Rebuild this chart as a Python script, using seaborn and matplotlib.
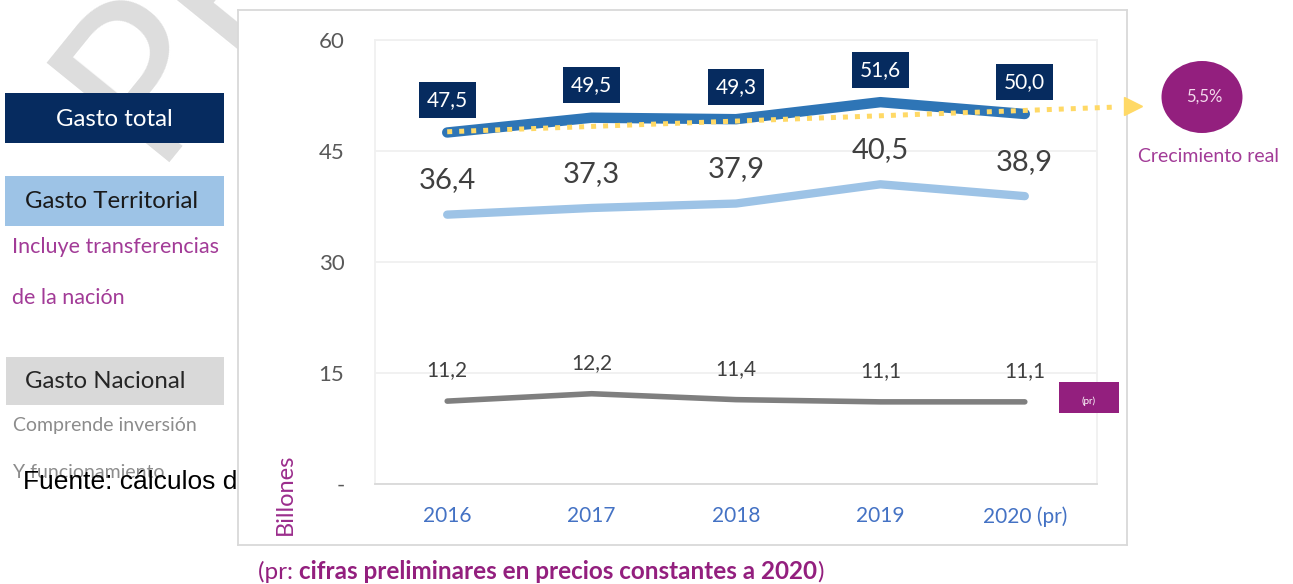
import numpy as np
import matplotlib
matplotlib.use("Agg")
import matplotlib.pyplot as plt
from matplotlib.patches import Rectangle, Ellipse
import seaborn as sns

# datos (billones, precios constantes 2020)
years = ["2016", "2017", "2018", "2019", "2020 (pr)"]
gasto_total = [47.5, 49.5, 49.3, 51.6, 50.0]
gasto_territorial = [36.4, 37.3, 37.9, 40.5, 38.9]
gasto_nacional = [11.2, 12.2, 11.4, 11.1, 11.1]
# tendencia (linea punteada): indice de categoria -> valor
trend_idx = [0, 4.65]
trend_val = [47.6, 50.95]
crecimiento = "5,5%"
yticks = [0, 15, 30, 45, 60]
ytick_labels = ["-", "15", "30", "45", "60"]

sns.set_style("white")
plt.rcParams["font.family"] = ["Lato", "DejaVu Sans"]

W, H = 1293, 584
navy = "#062B5F"
blue = "#2E75B6"
lblue = "#9DC3E6"
grey = "#7F7F7F"
purple = "#931F7E"
purple_txt = "#A23B97"

fig = plt.figure(figsize=(W / 100, H / 100), dpi=100)


def full_axes(z):
    a = fig.add_axes([0, 0, 1, 1], zorder=z)
    a.set_xlim(0, W)
    a.set_ylim(H, 0)
    a.axis("off")
    return a


# fondo: marca de agua y recuadros de la izquierda
ax_bg = full_axes(0)
ax_bg.text(150, 162, "PRELIMINAR", rotation=51, rotation_mode="anchor",
           ha="left", va="baseline", fontsize=158, color="#DDDDDD", zorder=0)

ax_bg.add_patch(Rectangle((5, 93), 219, 50, fc=navy, ec="none", zorder=2))
ax_bg.text(114, 119, "Gasto total", ha="center", va="center", fontsize=17.3,
           color="white", zorder=3)
ax_bg.add_patch(Rectangle((5, 176), 219, 50, fc=lblue, ec="none", zorder=2))
ax_bg.text(112, 202, "Gasto Territorial", ha="center", va="center", fontsize=17.3,
           color="#1A1A1A", zorder=3)
ax_bg.text(12, 247, "Incluye transferencias", ha="left", va="center", fontsize=15.5,
           color=purple_txt, zorder=3)
t = ax_bg.text(12, 298, "de la nación", ha="left", va="center", fontsize=15.5,
               color=purple_txt, zorder=3)
t.set_clip_path(Rectangle((0, 0), 240, 303, transform=ax_bg.transData))
ax_bg.add_patch(Rectangle((6, 357), 218, 48, fc="#D9D9D9", ec="none", zorder=2))
ax_bg.text(105, 382, "Gasto Nacional", ha="center", va="center", fontsize=17.3,
           color="#262626", zorder=3)
ax_bg.text(13, 425, "Comprende inversión", ha="left", va="center", fontsize=14,
           color="#8C8C8C", zorder=3)
ax_bg.text(13, 473, "Y funcionamiento", ha="left", va="center", fontsize=14,
           color="#8C8C8C", zorder=3)
f = ax_bg.text(23, 489, "Fuente: cálculos d", ha="left", va="baseline", fontsize=19,
               color="black", family="Liberation Sans", zorder=4)
f.set_clip_path(Rectangle((0, 0), 238, H, transform=ax_bg.transData))

# recuadro del grafico
ax_box = fig.add_axes([238 / W, 1 - 545 / H, (1127 - 238) / W, (545 - 10) / H], zorder=1)
ax_box.set_facecolor("white")
ax_box.set_xticks([])
ax_box.set_yticks([])
for s in ax_box.spines.values():
    s.set_color("#D9D9D9")
    s.set_linewidth(1.3)

# grafico principal
ax = fig.add_axes([375 / W, 1 - 484 / H, (1097 - 375) / W, (484 - 40) / H], zorder=2)
ax.set_facecolor("none")
x = np.arange(len(years))

sns.lineplot(x=x, y=gasto_territorial, ax=ax, color=lblue, linewidth=6,
             solid_capstyle="round", zorder=3)
sns.lineplot(x=x, y=gasto_nacional, ax=ax, color=grey, linewidth=4,
             solid_capstyle="round", zorder=3)
sns.lineplot(x=x, y=gasto_total, ax=ax, color=blue, linewidth=7.5,
             solid_capstyle="round", zorder=4)
ax.plot(trend_idx, trend_val, color="#FFD966", linewidth=3.6, linestyle=(0, (1, 1.4)),
        dash_capstyle="butt", clip_on=False, zorder=5)
ax.plot([trend_idx[-1] + 0.1], [trend_val[-1] + 0.07], marker=">", markersize=13,
        color="#FFD966", clip_on=False, zorder=5)


def fmt(v):
    return f"{v:.1f}".replace(".", ",")


for i, v in enumerate(gasto_total):
    ax.annotate(fmt(v), (i, v), xytext=(0, 19), textcoords="offset points",
                ha="center", va="baseline", fontsize=15, color="white", zorder=6,
                bbox=dict(boxstyle="square,pad=0.38", fc=navy, ec="none"))
for i, v in enumerate(gasto_territorial):
    ax.annotate(fmt(v), (i, v), xytext=(0, 19), textcoords="offset points",
                ha="center", va="baseline", fontsize=21, color="#404040", zorder=6)
for i, v in enumerate(gasto_nacional):
    ax.annotate(fmt(v), (i, v), xytext=(0, 18), textcoords="offset points",
                ha="center", va="baseline", fontsize=15, color="#404040", zorder=6)

ax.set_xlim(-0.5, len(years) - 0.5)
ax.set_ylim(0, 60)
ax.set_yticks(yticks)
ax.set_yticklabels(ytick_labels)
ax.set_xticks(np.arange(-0.5, len(years), 1))
ax.set_xticklabels([])
ax.set_xticks(x, minor=True)
ax.set_xticklabels(years, minor=True)
ax.tick_params(axis="x", which="major", length=6, width=1, color="#D9D9D9", direction="out")
ax.tick_params(axis="x", which="minor", length=0, pad=16, labelsize=15, labelcolor="#4472C4")
ax.tick_params(axis="y", length=0, pad=22, labelsize=16, labelcolor="#595959")
ax.yaxis.grid(True, color="#F0F0F0", linewidth=1.3)
ax.set_axisbelow(True)
for side in ["top", "right", "left"]:
    ax.spines[side].set_color("#F0F0F0")
    ax.spines[side].set_linewidth(1.3)
ax.spines["bottom"].set_color("#D9D9D9")
ax.spines["bottom"].set_linewidth(1.3)

# capa superior: anotaciones
ax_top = full_axes(3)
ax_top.text(285, 494, "Billones", rotation=90, ha="center", va="center",
            fontsize=17, color="#9B2D8C")
ax_top.add_patch(Rectangle((1059, 382), 60, 31, fc=purple, ec="none"))
ax_top.text(1089, 401, "(pr)", ha="center", va="center", fontsize=7, color="white")
ax_top.add_patch(Ellipse((1202, 97), 81, 72, fc=purple, ec="none"))
ax_top.text(1204, 97, crecimiento, ha="center", va="center", fontsize=12, color="#F3D9EC")
ax_top.text(1208, 157, "Crecimiento real", ha="center", va="center", fontsize=14,
            color=purple_txt)

t1 = ax_top.text(258, 572, "(pr: ", ha="left", va="center", fontsize=17.5, color=purple)
t2 = ax_top.annotate("cifras preliminares en precios constantes a 2020", xy=(1, 0),
                     xycoords=t1, ha="left", va="bottom", fontsize=17.5,
                     fontweight="bold", color=purple)
ax_top.annotate(")", xy=(1, 0), xycoords=t2, ha="left", va="bottom", fontsize=17.5,
                color=purple)

fig.savefig("out.png", dpi=100)
